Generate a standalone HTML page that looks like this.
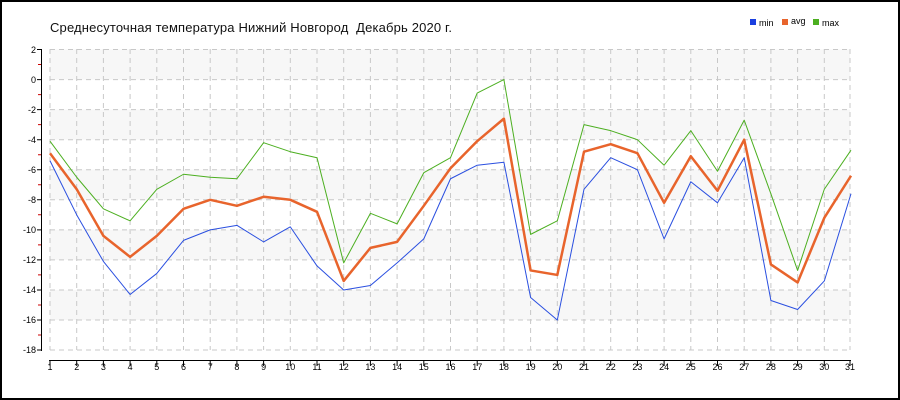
<!DOCTYPE html>
<html><head><meta charset="utf-8"><style>
html,body{margin:0;padding:0;background:#fff}
svg{display:block}
text{font-family:"Liberation Sans",sans-serif}
</style></head><body>
<svg width="900" height="400" xmlns="http://www.w3.org/2000/svg">
<rect x="1" y="1" width="898" height="398" fill="#fff" stroke="#000" stroke-width="2"/>
<text x="50" y="32" font-size="13" fill="#111" textLength="402">Среднесуточная температура Нижний Новгород&#160;&#160;Декабрь 2020 г.</text>
<rect x="750" y="19" width="6" height="6" fill="#1a3fe0"/><text x="759" y="26" font-size="9">min</text>
<rect x="782" y="19" width="6" height="6" fill="#e8642c"/><text x="791" y="24" font-size="9">avg</text>
<rect x="813" y="19" width="6" height="6" fill="#4caf20"/><text x="822" y="26" font-size="9">max</text>
<g fill="#f7f7f7">
<rect x="50" y="49.5" width="800" height="30"/>
<rect x="50" y="109.6" width="800" height="30"/>
<rect x="50" y="169.7" width="800" height="30"/>
<rect x="50" y="229.9" width="800" height="30"/>
<rect x="50" y="290" width="800" height="30"/>
</g>
<g stroke="#c8c8c8" stroke-dasharray="5,4" stroke-width="1">
<path d="M50 49.5H850M50 79.6H850M50 109.6H850M50 139.7H850M50 169.7H850M50 199.8H850M50 229.9H850M50 259.9H850M50 290H850M50 320H850M50 350H850"/>
<path d="M50 49V350M76.7 49V350M103.4 49V350M130.1 49V350M156.8 49V350M183.5 49V350M210.2 49V350M236.9 49V350M263.6 49V350M290.3 49V350M317 49V350M343.7 49V350M370.4 49V350M397.1 49V350M423.8 49V350M450.5 49V350M477.2 49V350M503.9 49V350M530.6 49V350M557.3 49V350M584 49V350M610.7 49V350M637.4 49V350M664.1 49V350M690.8 49V350M717.5 49V350M744.2 49V350M770.9 49V350M797.6 49V350M824.3 49V350M850 49V350"/>
</g>
<g stroke="#000" stroke-width="1">
<path d="M41.5 49V351M37 49.5H42M37 79.6H42M37 109.6H42M37 139.7H42M37 169.7H42M37 199.8H42M37 229.9H42M37 259.9H42M37 290H42M37 320H42M37 350H42"/>
<path d="M49 360.5H851"/>
</g>
<g stroke="#c00" stroke-width="1"><path d="M38 64.5H41M38 94.6H41M38 124.6H41M38 154.7H41M38 184.7H41M38 214.8H41M38 244.9H41M38 274.9H41M38 305H41M38 335H41"/></g>
<g font-size="9" text-anchor="end" fill="#000">
<text x="36" y="53">2</text><text x="36" y="83">0</text><text x="36" y="113">-2</text><text x="36" y="143">-4</text><text x="36" y="173">-6</text><text x="36" y="203">-8</text><text x="36" y="233">-10</text><text x="36" y="263">-12</text><text x="36" y="293">-14</text><text x="36" y="323">-16</text><text x="36" y="353">-18</text>
</g>
<g stroke="#000"><path d="M50 360V366M76.7 360V366M103.4 360V366M130.1 360V366M156.8 360V366M183.5 360V366M210.2 360V366M236.9 360V366M263.6 360V366M290.3 360V366M317 360V366M343.7 360V366M370.4 360V366M397.1 360V366M423.8 360V366M450.5 360V366M477.2 360V366M503.9 360V366M530.6 360V366M557.3 360V366M584 360V366M610.7 360V366M637.4 360V366M664.1 360V366M690.8 360V366M717.5 360V366M744.2 360V366M770.9 360V366M797.6 360V366M824.3 360V366M850 360V366"/></g>
<g font-size="9" text-anchor="middle">
<text x="50" y="370">1</text><text x="76.7" y="370">2</text><text x="103.4" y="370">3</text><text x="130.1" y="370">4</text><text x="156.8" y="370">5</text><text x="183.5" y="370">6</text><text x="210.2" y="370">7</text><text x="236.9" y="370">8</text><text x="263.6" y="370">9</text><text x="290.3" y="370">10</text><text x="317" y="370">11</text><text x="343.7" y="370">12</text><text x="370.4" y="370">13</text><text x="397.1" y="370">14</text><text x="423.8" y="370">15</text><text x="450.5" y="370">16</text><text x="477.2" y="370">17</text><text x="503.9" y="370">18</text><text x="530.6" y="370">19</text><text x="557.3" y="370">20</text><text x="584" y="370">21</text><text x="610.7" y="370">22</text><text x="637.4" y="370">23</text><text x="664.1" y="370">24</text><text x="690.8" y="370">25</text><text x="717.5" y="370">26</text><text x="744.2" y="370">27</text><text x="770.9" y="370">28</text><text x="797.6" y="370">29</text><text x="824.3" y="370">30</text><text x="850" y="370">31</text>
</g>
<g transform="translate(23.3,79.56) scale(26.7,-15.03)" fill="none" stroke-linejoin="round">
<polyline vector-effect="non-scaling-stroke" stroke="#4caf20" stroke-width="1" points="1,-4.1 2,-6.5 3,-8.6 4,-9.4 5,-7.3 6,-6.3 7,-6.5 8,-6.6 9,-4.2 10,-4.8 11,-5.2 12,-12.2 13,-8.9 14,-9.6 15,-6.2 16,-5.2 17,-0.9 18,0 19,-10.3 20,-9.4 21,-3.0 22,-3.4 23,-4.0 24,-5.7 25,-3.4 26,-6.1 27,-2.7 28,-7.6 29,-12.7 30,-7.3 31,-4.7"/>
<polyline vector-effect="non-scaling-stroke" stroke="#2a4fe0" stroke-width="1" points="1,-5.4 2,-9.0 3,-12.1 4,-14.3 5,-12.9 6,-10.7 7,-10.0 8,-9.7 9,-10.8 10,-9.8 11,-12.4 12,-14.0 13,-13.7 14,-12.2 15,-10.6 16,-6.6 17,-5.7 18,-5.5 19,-14.5 20,-16.0 21,-7.3 22,-5.2 23,-6.0 24,-10.6 25,-6.8 26,-8.2 27,-5.2 28,-14.7 29,-15.3 30,-13.4 31,-7.6"/>
<polyline vector-effect="non-scaling-stroke" stroke="#e8642c" stroke-width="2.5" points="1,-4.9 2,-7.3 3,-10.4 4,-11.8 5,-10.4 6,-8.6 7,-8.0 8,-8.4 9,-7.8 10,-8.0 11,-8.8 12,-13.4 13,-11.2 14,-10.8 15,-8.4 16,-5.9 17,-4.1 18,-2.6 19,-12.7 20,-13.0 21,-4.8 22,-4.3 23,-4.9 24,-8.2 25,-5.1 26,-7.4 27,-4.0 28,-12.3 29,-13.5 30,-9.2 31,-6.4"/>
</g>
</svg>
</body></html>
